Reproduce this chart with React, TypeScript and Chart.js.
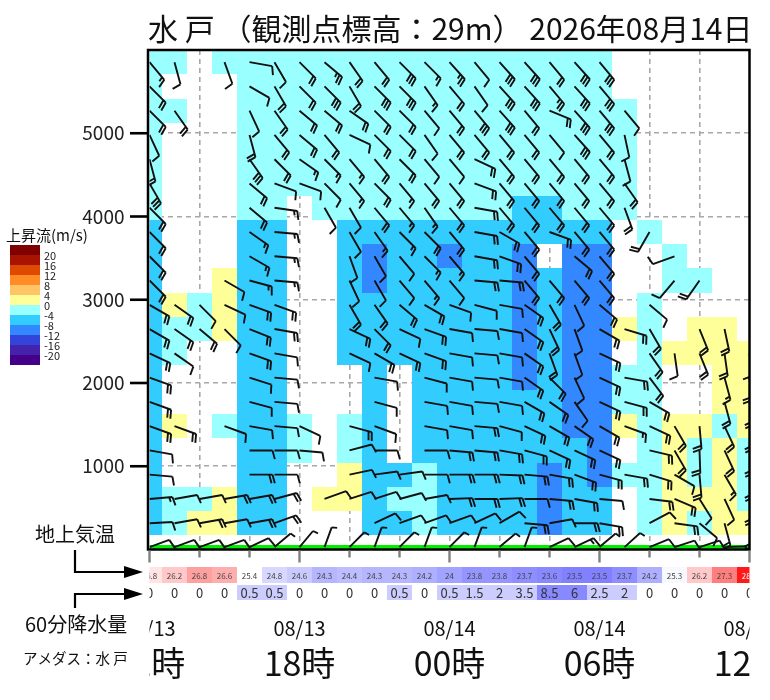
import React, { useEffect, useRef } from "react";
import { Chart, registerables } from "chart.js";

Chart.register(...registerables);

const FONT = '"Noto Sans CJK JP", "Noto Sans", sans-serif';

// ---------------- data ----------------
const TITLE = "水 戸 （観測点標高：29m） 2026年08月14日";
const STATION_ELEV = 29; // m
const STATION_NAME = "アメダス：水 戸";

// hour index 0..24 = 08/13 12時 .. 08/14 12時
const HOURS = [0, 1, 2, 3, 4, 5, 6, 7, 8, 9, 10, 11, 12, 13, 14, 15, 16, 17, 18, 19, 20, 21, 22, 23, 24];
const LABEL_HOURS = [0, 6, 12, 18, 24];
const DATE_LABELS = ["08/13", "08/13", "08/14", "08/14", "08/14"];
const HOUR_LABELS = ["12時", "18時", "00時", "06時", "12時"];
const TICK_HOURS = [0, 2, 4, 6, 8, 10, 12, 14, 16, 18, 20, 22, 24];
const Y_TICKS = [1000, 2000, 3000, 4000, 5000];

const TEMPS = [25.8, 26.2, 26.8, 26.6, 25.4, 24.8, 24.6, 24.3, 24.4, 24.3, 24.3, 24.2, 24, 23.8, 23.8, 23.7, 23.6, 23.5, 23.5, 23.7, 24.2, 25.3, 26.2, 27.3, 28.1];
const PRECIP = [0, 0, 0, 0, 0.5, 0.5, 0, 0, 0, 0, 0.5, 0, 0.5, 1.5, 2, 3.5, 8.5, 6, 2.5, 2, 0, 0, 0, 0, 0];

// updraft legend
const W_LEVELS = [20, 16, 12, 8, 4, 0, -4, -8, -12, -16, -20];
const W_COLORS = ["#800000", "#a81400", "#e04a00", "#ff8c26", "#ffc466", "#ffff99", "#99ffff", "#33ccff", "#3388ff", "#3344dd", "#4422aa", "#440088"];

// height levels (m), bottom to top
const LEVELS = [316, 607, 899, 1190, 1482, 1773, 2065, 2356, 2648, 2939, 3231, 3522, 3814, 4105, 4397, 4688, 4980, 5271, 5563, 5854];

// updraft class per cell: '.' no data, y: 0..4, c: -4..0, b: -8..-4, B: -12..-8
const W_CODE: Record<string, number | null> = { ".": null, y: 2, c: -2, b: -6, B: -10 };
const W_ROWS = [
  "bcyybb...bbcbbbbBbb.cycyy",
  "bccybb.yybccbbbbBbb.cyyyc",
  "b...bb..ybbcbbbbBbBccycyc",
  "b...bbc.cb.bbbbbbbB.cycyc",
  "by.cbbc.cb.bbbbbbBBycyycy",
  "b...bb...b.bbbbbbBBcc..yy",
  "b...bb...b.bbbbBbBBcc..yy",
  "bc..bb..bbbbbbbBbBB.cyyyy",
  "bccybb..bbbbbbbBbBByc.yy.",
  "bycybb..bbbbbbbBbBB.c....",
  "b..ybb..bBbbbbbBbBB..cc..",
  "b...bb..bBbbBbbB.BB..c...",
  "b...bb..bbbbbbbbbbb.c....",
  "c...cc.ccccccccbbccc.....",
  "c...cccccccccccccccc.....",
  "c...cccccccccccccccc.....",
  "c...cccccccccccccccc.....",
  "cc..cccccccccccccccc.....",
  "c...ccccccccccccccc......",
  "cc.cccccccccccccccc......",
];

// wind barb direction (deg, staff bearing) and feather count, bottom to top
const DIR_ROWS = [
  [87, 80, 80, 80, 80, 70, 0, 0, 0, 65, 70, 70, 70, 65, 60, 95, 80, 90, 100, 0, 62, 98, 130, 165, 170],
  [85, 80, 80, 80, 80, 75, 0, 70, 72, 72, 75, 80, 88, 90, 88, 90, 95, 100, 95, 0, 97, 113, 148, 155, 170],
  [95, 0, 0, 0, 90, 90, 0, 0, 78, 82, 82, 90, 90, 90, 92, 95, 100, 110, 105, 100, 107, 120, 175, 150, 170],
  [100, 0, 0, 0, 90, 90, 95, 0, 75, 90, 0, 90, 95, 95, 100, 105, 115, 115, 115, 0, 103, 150, 178, 155, 170],
  [110, 110, 0, 110, 100, 95, 115, 0, 105, 110, 0, 100, 100, 95, 105, 115, 120, 125, 120, 110, 115, 150, 175, 155, 170],
  [110, 0, 0, 0, 105, 95, 0, 0, 0, 105, 0, 100, 100, 95, 100, 120, 125, 145, 115, 105, 120, 0, 0, 165, 170],
  [110, 0, 0, 0, 108, 95, 0, 0, 0, 100, 0, 105, 100, 95, 100, 125, 135, 155, 115, 100, 143, 0, 0, 165, 175],
  [115, 125, 0, 0, 110, 100, 0, 0, 115, 120, 115, 110, 100, 95, 100, 125, 160, 160, 115, 0, 145, 172, 158, 172, 175],
  [120, 125, 130, 135, 112, 100, 0, 0, 115, 135, 115, 110, 100, 95, 100, 125, 155, 160, 120, 107, 150, 0, 158, 168, 0],
  [120, 125, 135, 115, 110, 110, 0, 0, 150, 145, 130, 120, 110, 105, 100, 125, 150, 155, 130, 0, 130, 0, 0, 0, 0],
  [135, 0, 0, 120, 105, 95, 0, 0, 155, 150, 140, 140, 140, 95, 95, 140, 140, 140, 140, 0, 0, 220, 215, 0, 0],
  [135, 0, 0, 0, 120, 95, 0, 0, 160, 150, 140, 135, 140, 100, 110, 140, 0, 130, 140, 0, 0, 250, 0, 0, 0],
  [135, 0, 0, 0, 125, 95, 0, 0, 150, 145, 135, 135, 140, 100, 120, 140, 110, 140, 140, 0, 210, 0, 0, 0, 0],
  [135, 0, 0, 0, 130, 98, 0, 150, 150, 140, 140, 145, 140, 100, 140, 140, 140, 140, 140, 160, 0, 0, 0, 0, 0],
  [150, 0, 0, 0, 130, 110, 110, 135, 140, 135, 140, 140, 140, 110, 140, 140, 140, 140, 140, 145, 0, 0, 0, 0, 0],
  [165, 0, 0, 0, 145, 135, 125, 135, 140, 140, 135, 140, 140, 115, 140, 140, 140, 140, 140, 165, 0, 0, 0, 0, 0],
  [155, 0, 0, 0, 165, 140, 130, 140, 115, 135, 135, 145, 140, 140, 140, 140, 140, 138, 140, 168, 0, 0, 0, 0, 0],
  [135, 145, 0, 0, 155, 145, 130, 130, 125, 135, 135, 140, 140, 140, 138, 140, 112, 138, 140, 140, 0, 0, 0, 0, 0],
  [135, 0, 0, 0, 120, 150, 135, 135, 150, 135, 135, 145, 140, 145, 138, 138, 140, 138, 140, 0, 0, 0, 0, 0, 0],
  [140, 165, 0, 160, 100, 150, 135, 130, 145, 140, 135, 135, 138, 140, 138, 138, 140, 138, 140, 0, 0, 0, 0, 0, 0],
];
const SPD_ROWS = [
  [1, 1, 2, 1, 2, 2, 0, 0, 0, 1, 1, 1, 1, 1, 1, 2, 1, 2, 2, 0, 1, 2, 1, 2, 2],
  [1.5, 1, 1, 2, 2, 2, 0, 1, 1, 1, 1, 1, 2, 2, 2, 1, 2, 2, 1, 0, 2, 2, 1, 1, 2],
  [1, 0, 0, 0, 2, 1, 0, 0, 1, 1, 1, 1, 2, 2, 2, 2, 2, 2, 2, 2, 2, 1, 2, 1.5, 2],
  [1, 0, 0, 0, 1, 1, 1, 0, 1, 1, 0, 1, 2, 2, 2, 2, 2, 2, 2, 0, 2, 2, 2, 2, 2],
  [2, 2, 0, 1, 1, 1, 1, 0, 2, 1, 0, 1, 1, 2, 1, 2, 2, 2, 2, 1.5, 2, 2, 2, 2, 2],
  [2, 0, 0, 0, 1, 1, 0, 0, 0, 1, 0, 1, 1, 1, 1, 2, 2, 1, 2, 2, 2, 0, 0, 2, 2],
  [2, 0, 0, 0, 1, 1, 0, 0, 0, 1, 0, 1, 1, 1, 1, 2, 2, 1, 2, 2, 2, 0, 0, 1.5, 2],
  [2, 1, 0, 0, 2, 1, 0, 0, 1, 2, 2, 2, 1, 1, 1, 2, 2, 1, 2, 0, 2, 1, 2, 2, 1],
  [2, 2, 2, 1, 2, 2, 0, 0, 2, 2, 1, 2, 1, 1, 1, 2, 2, 1, 2, 2, 2, 0, 2, 2, 0],
  [2, 2, 1, 1, 2, 2, 0, 0, 2, 2, 2, 2, 1, 1, 1, 2, 2, 1, 2, 0, 1, 0, 0, 0, 0],
  [2, 0, 0, 1, 1.5, 1.5, 0, 0, 1, 1, 1, 1.5, 1, 2, 2, 2, 2, 2, 2, 0, 0, 1, 2, 0, 0],
  [2, 0, 0, 0, 1.5, 1.5, 0, 0, 1, 1, 1, 1.5, 1.5, 2, 2, 2, 0, 2, 2, 0, 0, 1, 0, 0, 0],
  [2, 0, 0, 0, 1.5, 1.5, 0, 0, 1, 1.5, 1.5, 2, 2, 2, 2, 2, 2, 2, 2, 0, 2, 0, 0, 0, 0],
  [2, 0, 0, 0, 2, 1.5, 0, 1, 1, 2, 1.5, 1.5, 2, 2, 2, 2, 2, 2, 2, 2, 0, 0, 0, 0, 0],
  [3, 0, 0, 0, 2, 1, 1, 1, 1.5, 2, 1.5, 2, 2, 2, 2, 2, 2, 2, 2, 2, 0, 0, 0, 0, 0],
  [2, 0, 0, 0, 3, 2, 1.5, 1.5, 1.5, 2, 2, 1, 1, 2, 2, 2, 2, 2, 2, 1, 0, 0, 0, 0, 0],
  [1, 0, 0, 0, 2, 2, 2, 2, 1, 2, 2, 1, 2, 2, 2, 2, 1, 3, 2, 1, 0, 0, 0, 0, 0],
  [2, 2, 0, 0, 1, 2, 2, 2, 2, 2, 2, 1, 2, 3, 3, 2, 2, 3, 3, 1, 0, 0, 0, 0, 0],
  [2, 0, 0, 0, 1, 2, 2, 3, 2, 3, 3, 1.5, 2, 1, 3, 3, 2.5, 3, 3, 0, 0, 0, 0, 0, 0],
  [1.5, 1, 0, 1, 1, 1, 2, 2.5, 2, 2, 3, 1.5, 2.5, 1, 3, 3, 2, 3, 3, 0, 0, 0, 0, 0, 0],
];
// surface (AMeDAS) wind
const SURF_DIR = [70, 70, 70, 70, 65, 50, 40, 20, 45, 20, 45, 20, 45, 20, 50, 20, 65, 65, 50, 48, 68, 72, 72, 88, 70];
const SURF_SPD = [1, 1, 1, 1, 1, 0.5, 0.5, 0.5, 0.5, 0.5, 0.5, 0.5, 0.5, 0.5, 0.5, 0.5, 1, 1.5, 0.5, 0.5, 1, 1, 1, 1, 1];

// ---------------- helpers ----------------
function wColor(v: number): string {
  for (let i = 0; i < W_LEVELS.length; i++) if (v >= W_LEVELS[i]) return W_COLORS[i];
  return W_COLORS[W_COLORS.length - 1];
}
function levelEdge(i: number): number {
  if (i <= 0) return LEVELS[0] - (LEVELS[1] - LEVELS[0]) / 2;
  if (i >= LEVELS.length) return LEVELS[LEVELS.length - 1] + (LEVELS[LEVELS.length - 1] - LEVELS[LEVELS.length - 2]) / 2;
  return (LEVELS[i - 1] + LEVELS[i]) / 2;
}
function tempColor(t: number): [string, number] {
  const base = 25.4;
  if (t >= base) {
    const f = Math.min(0.95, t <= 27.3 ? (t - base) * 0.265 : 0.5 + (t - 27.3) * 0.5);
    const g = Math.round(255 * (1 - f));
    return [`rgb(255,${g},${g})`, f];
  }
  const f = Math.min(0.9, (base - t) * 0.26);
  const g = Math.round(255 * (1 - f));
  return [`rgb(${g},${g},255)`, f];
}
function precipColor(v: number): string | null {
  if (v <= 0) return null;
  if (v < 5) return "#ccccff";
  return "#8888ff";
}
function drawBarb(ctx: CanvasRenderingContext2D, x0: number, y0: number, dir: number, spd: number, L: number, FL: number, gap: number) {
  const a = (dir * Math.PI) / 180;
  const ux = Math.sin(a), uy = -Math.cos(a);
  const tx = x0 + ux * L, ty = y0 + uy * L;
  const b = ((dir + 75) * Math.PI) / 180;
  const fx = Math.sin(b), fy = -Math.cos(b);
  ctx.beginPath();
  ctx.moveTo(x0, y0);
  ctx.lineTo(tx, ty);
  let n = spd, pos = 0;
  while (n >= 1) {
    const px = tx - ux * pos, py = ty - uy * pos;
    ctx.moveTo(px, py);
    ctx.lineTo(px + fx * FL, py + fy * FL);
    pos += gap;
    n -= 1;
  }
  if (n >= 0.5) {
    const px = tx - ux * pos, py = ty - uy * pos;
    ctx.moveTo(px, py);
    ctx.lineTo(px + fx * FL * 0.55, py + fy * FL * 0.55);
  }
  ctx.stroke();
}

// ---------------- plugins ----------------
const cellPlugin = {
  id: "cells",
  beforeDatasetsDraw(chart: any) {
    const { ctx, chartArea: a, scales } = chart;
    const x = scales.x, y = scales.y;
    ctx.save();
    ctx.beginPath();
    ctx.rect(a.left, a.top, a.right - a.left, a.bottom - a.top);
    ctx.clip();
    W_ROWS.forEach((row, r) => {
      const py0 = Math.round(y.getPixelForValue(levelEdge(r + 1)));
      const py1 = Math.round(y.getPixelForValue(levelEdge(r)));
      for (let c = 0; c < row.length && c < HOURS.length; c++) {
        const v = W_CODE[row[c]];
        if (v === null || v === undefined) continue;
        const px0 = Math.round(x.getPixelForValue(HOURS[c] - 0.5));
        const px1 = Math.round(x.getPixelForValue(HOURS[c] + 0.5));
        ctx.fillStyle = wColor(v);
        ctx.fillRect(px0, py0, px1 - px0, py1 - py0);
      }
    });
    ctx.restore();
  },
};

const barbPlugin = {
  id: "barbs",
  afterDatasetsDraw(chart: any) {
    const { ctx, chartArea: a, scales } = chart;
    const x = scales.x, y = scales.y;
    ctx.save();
    ctx.beginPath();
    ctx.rect(a.left, a.top, a.right - a.left, a.bottom - a.top);
    ctx.clip();
    ctx.strokeStyle = "#111";
    ctx.lineWidth = 1.9;
    ctx.lineCap = "butt";
    W_ROWS.forEach((row, r) => {
      for (let c = 0; c < row.length; c++) {
        if (W_CODE[row[c]] === null) continue;
        const d = DIR_ROWS[r][c], s = SPD_ROWS[r][c];
        if (!s) continue;
        drawBarb(ctx, x.getPixelForValue(HOURS[c]), y.getPixelForValue(LEVELS[r]), d, s, 23, 9, 3.3);
      }
    });
    for (let c = 0; c < SURF_DIR.length; c++) {
      drawBarb(ctx, x.getPixelForValue(HOURS[c]), y.getPixelForValue(STATION_ELEV), SURF_DIR[c], SURF_SPD[c], 21, 10, 3.3);
    }
    ctx.restore();
  },
};

const decorPlugin = {
  id: "decor",
  afterDraw(chart: any) {
    const { ctx, chartArea: a, scales } = chart;
    const x = scales.x, y = scales.y;
    ctx.save();

    // plot frame
    ctx.strokeStyle = "#000";
    ctx.lineWidth = 2.5;
    ctx.strokeRect(a.left - 1.5, a.top, a.right - a.left + 1.5, a.bottom - a.top);

    // y ticks
    ctx.fillStyle = "#000";
    Y_TICKS.forEach((v) => {
      const py = y.getPixelForValue(v);
      ctx.fillRect(a.left - 19.5, py - 1.3, 18, 2.6);
    });

    // x ticks
    ctx.fillStyle = "#808080";
    TICK_HOURS.forEach((h) => {
      const px = x.getPixelForValue(h);
      const len = h % 6 === 0 ? 12 : 7;
      ctx.fillRect(px - 1.2, a.bottom + 1, 2.4, len);
    });

    // rows and labels clipped to plot width
    ctx.save();
    ctx.beginPath();
    ctx.rect(a.left, a.bottom, a.right - a.left, 200);
    ctx.clip();

    ctx.textAlign = "center";
    ctx.textBaseline = "middle";
    TEMPS.forEach((t, i) => {
      const px0 = Math.round(x.getPixelForValue(HOURS[i] - 0.5));
      const px1 = Math.round(x.getPixelForValue(HOURS[i] + 0.5));
      const [col, f] = tempColor(t);
      ctx.fillStyle = col;
      ctx.fillRect(px0, 567, px1 - px0, 16);
      ctx.fillStyle = f > 0.7 ? "#fff" : "#444";
      ctx.font = `8px ${FONT}`;
      ctx.fillText(String(t), (px0 + px1) / 2, 576);
    });
    PRECIP.forEach((v, i) => {
      const px0 = Math.round(x.getPixelForValue(HOURS[i] - 0.5));
      const px1 = Math.round(x.getPixelForValue(HOURS[i] + 0.5));
      const col = precipColor(v);
      if (col) {
        ctx.fillStyle = col;
        ctx.fillRect(px0, 585, px1 - px0, 15);
      }
      ctx.fillStyle = "#333";
      ctx.font = `13px ${FONT}`;
      ctx.fillText(String(v), (px0 + px1) / 2, 593);
    });
    LABEL_HOURS.forEach((h, i) => {
      const px = x.getPixelForValue(h);
      ctx.fillStyle = "#111";
      ctx.font = `20px ${FONT}`;
      ctx.fillText(DATE_LABELS[i], px, 628);
      ctx.font = `34px ${FONT}`;
      ctx.fillText(HOUR_LABELS[i], px, 663);
    });
    ctx.restore();

    // title
    ctx.fillStyle = "#111";
    ctx.textAlign = "left";
    ctx.textBaseline = "alphabetic";
    ctx.font = `30px ${FONT}`;
    ctx.fillText(TITLE, 148, 40);

    // legend
    ctx.font = `15px ${FONT}`;
    ctx.textBaseline = "middle";
    ctx.fillText("上昇流(m/s)", 6, 235);
    W_COLORS.forEach((col, i) => {
      ctx.fillStyle = col;
      ctx.fillRect(10, 245 + i * 10, 30, 10);
    });
    ctx.fillStyle = "#222";
    ctx.font = `11px ${FONT}`;
    W_LEVELS.forEach((lv, i) => {
      ctx.fillText(String(lv), 44, 256 + i * 10);
    });

    // side labels
    ctx.fillStyle = "#111";
    ctx.font = `20px ${FONT}`;
    ctx.fillText("地上気温", 35, 534);
    ctx.fillText("60分降水量", 25, 624);
    ctx.font = `14.5px ${FONT}`;
    ctx.fillText(STATION_NAME, 23, 658);

    // arrows
    ctx.strokeStyle = "#000";
    ctx.lineWidth = 2.2;
    const arrow = (y0: number, y1: number) => {
      ctx.beginPath();
      ctx.moveTo(75, y0);
      ctx.lineTo(75, y1);
      ctx.lineTo(127, y1);
      ctx.stroke();
      ctx.beginPath();
      ctx.moveTo(143, y1);
      ctx.lineTo(124, y1 - 6);
      ctx.lineTo(124, y1 + 6);
      ctx.closePath();
      ctx.fillStyle = "#000";
      ctx.fill();
    };
    arrow(550, 572);
    arrow(608, 594);

    ctx.restore();
  },
};

export default function App() {
  const ref = useRef<HTMLCanvasElement | null>(null);
  useEffect(() => {
    if (!ref.current) return;
    const hideEnds = (ctx: any, col: string) =>
      ctx.tick && (ctx.tick.value === 0 || ctx.tick.value === 6000 || ctx.tick.value === 24) ? "rgba(0,0,0,0)" : col;
    const chart = new Chart(ref.current, {
      type: "line",
      data: {
        datasets: [
          {
            label: "地表",
            data: [
              { x: HOURS[0], y: STATION_ELEV },
              { x: HOURS[HOURS.length - 1], y: STATION_ELEV },
            ],
            borderColor: "#00ee00",
            borderWidth: 4,
            pointRadius: 0,
          },
        ],
      },
      options: {
        responsive: false,
        animation: false,
        devicePixelRatio: 1,
        layout: { padding: { top: 50, right: 20.5, left: 0, bottom: 0 } },
        plugins: { legend: { display: false }, tooltip: { enabled: false }, title: { display: false } },
        scales: {
          x: {
            type: "linear",
            min: HOURS[0],
            max: HOURS[HOURS.length - 1],
            position: "bottom",
            afterFit: (s: any) => {
              s.height = 150.5;
            },
            ticks: { stepSize: 2, display: false },
            grid: { color: (c: any) => hideEnds(c, "#a8a8a8"), lineWidth: 1.6, drawTicks: false },
            border: { display: false, dash: [5, 4] },
          },
          y: {
            type: "linear",
            min: 0,
            max: 6000,
            afterFit: (s: any) => {
              s.width = 149.5;
            },
            ticks: {
              stepSize: 1000,
              callback: (v: any) => (v === 0 || v === 6000 ? "" : String(v)),
              font: { family: FONT, size: 19 },
              color: "#222",
              padding: 25,
            },
            grid: {
              color: (c: any) => hideEnds(c, "#a8a8a8"),
              lineWidth: 1.6,
              drawTicks: false,
            },
            border: { display: false, dash: [5, 4] },
          },
        },
      } as any,
      plugins: [cellPlugin, barbPlugin, decorPlugin],
    });
    return () => chart.destroy();
  }, []);
  return (
    <div style={{ position: "fixed", left: 0, top: 0, width: 770, height: 700, background: "#fff" }}>
      <canvas ref={ref} width={770} height={700} style={{ display: "block" }} />
    </div>
  );
}
